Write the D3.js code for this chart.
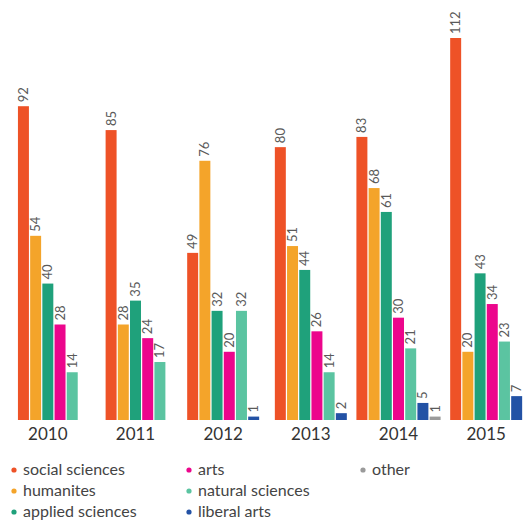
<!DOCTYPE html>
<html>
<head>
<meta charset="utf-8">
<script src="https://cdn.jsdelivr.net/npm/d3@7"></script>
<style>
  body { margin: 0; background: #fff; font-family: Lato, "Open Sans", sans-serif; }
  svg { display: block; }
</style>
</head>
<body>
<div id="chart"></div>
<script>
(function(){

    // years and fields
    const years = ["2010", "2011", "2012", "2013", "2014", "2015"];
    const fields = ["social sciences", "humanites", "applied sciences", "arts", "natural sciences", "liberal arts", "other"];
    const colors = ["#ee5227", "#f4a42a", "#1fa17b", "#ec068c", "#5bc4a1", "#2352a5", "#9a9a9a"];

    // one value per field, null = no bar that year
    const socialSciences  = [92, 85, 49, 80, 83, 112];
    const humanites       = [54, 28, 76, 51, 68, 20];
    const appliedSciences = [40, 35, 32, 44, 61, 43];
    const arts            = [28, 24, 20, 26, 30, 34];
    const naturalSciences = [14, 17, 32, 14, 21, 23];
    const liberalArts     = [null, null, 1, 2, 5, 7];
    const other           = [null, null, null, null, 1, null];

    const series = [socialSciences, humanites, appliedSciences, arts, naturalSciences, liberalArts, other];

    const width = 530, height = 522;
    const baseline = 420;

    const svg = d3.select("#chart")
        .append("svg")
        .attr("width", width)
        .attr("height", height);

    const x = d3.scaleBand()
        .domain(years)
        .range([4, 530]);

    const y = d3.scaleLinear()
        .domain([0, 112])
        .range([baseline, 38]);

    const barStep = 12.2;

    // build rows per year, skipping empty fields
    const groups = years.map((yr, i) => {
        const items = fields
            .map((f, j) => ({ field: f, value: series[j][i], color: colors[j] }))
            .filter(d => d.value != null);
        return { year: yr, items: items };
    });

    const g = svg.selectAll(".year")
        .data(groups)
        .enter()
        .append("g")
        .attr("class", "year");

    g.each(function(grp) {
        const center = x(grp.year) + x.bandwidth() / 2;
        const n = grp.items.length;
        const inner = d3.scaleBand()
            .domain(grp.items.map(d => d.field))
            .range([center - n * barStep / 2, center + n * barStep / 2])
            .paddingInner(0.1)
            .paddingOuter(0.05);

        const sel = d3.select(this);

        sel.selectAll("rect")
            .data(grp.items)
            .enter()
            .append("rect")
            .attr("x", d => inner(d.field))
            .attr("y", d => y(d.value))
            .attr("width", inner.bandwidth())
            .attr("height", d => baseline - y(d.value))
            .attr("fill", d => d.color);

        sel.selectAll("text")
            .data(grp.items)
            .enter()
            .append("text")
            .attr("transform", d => `translate(${inner(d.field) + inner.bandwidth() / 2},${y(d.value) - 4}) rotate(-90)`)
            .attr("dy", "0.35em")
            .attr("text-anchor", "start")
            .style("font-size", "13px")
            .style("fill", "#5a5a5a")
            .text(d => d.value);
    });

    // year axis
    const axis = svg.append("g")
        .attr("transform", `translate(0,${baseline})`)
        .call(d3.axisBottom(x).tickSize(0).tickPadding(8));
    axis.select(".domain").remove();
    axis.selectAll("text")
        .style("font-family", "Lato, sans-serif")
        .style("font-size", "17px")
        .style("fill", "#333");

    // legend, three columns
    const colX = [14, 189, 363];
    const rowY = [470, 491, 512];
    const legend = svg.selectAll(".legend")
        .data(fields)
        .enter()
        .append("g")
        .attr("class", "legend")
        .attr("transform", (d, i) => `translate(${colX[Math.floor(i / 3)]},${rowY[i % 3]})`);

    legend.append("circle")
        .attr("r", 2.6)
        .attr("fill", (d, i) => colors[i]);

    legend.append("text")
        .attr("x", 9)
        .attr("dy", "0.32em")
        .style("font-size", "16px")
        .style("fill", "#444")
        .text(d => d);

})();
</script>
</body>
</html>
